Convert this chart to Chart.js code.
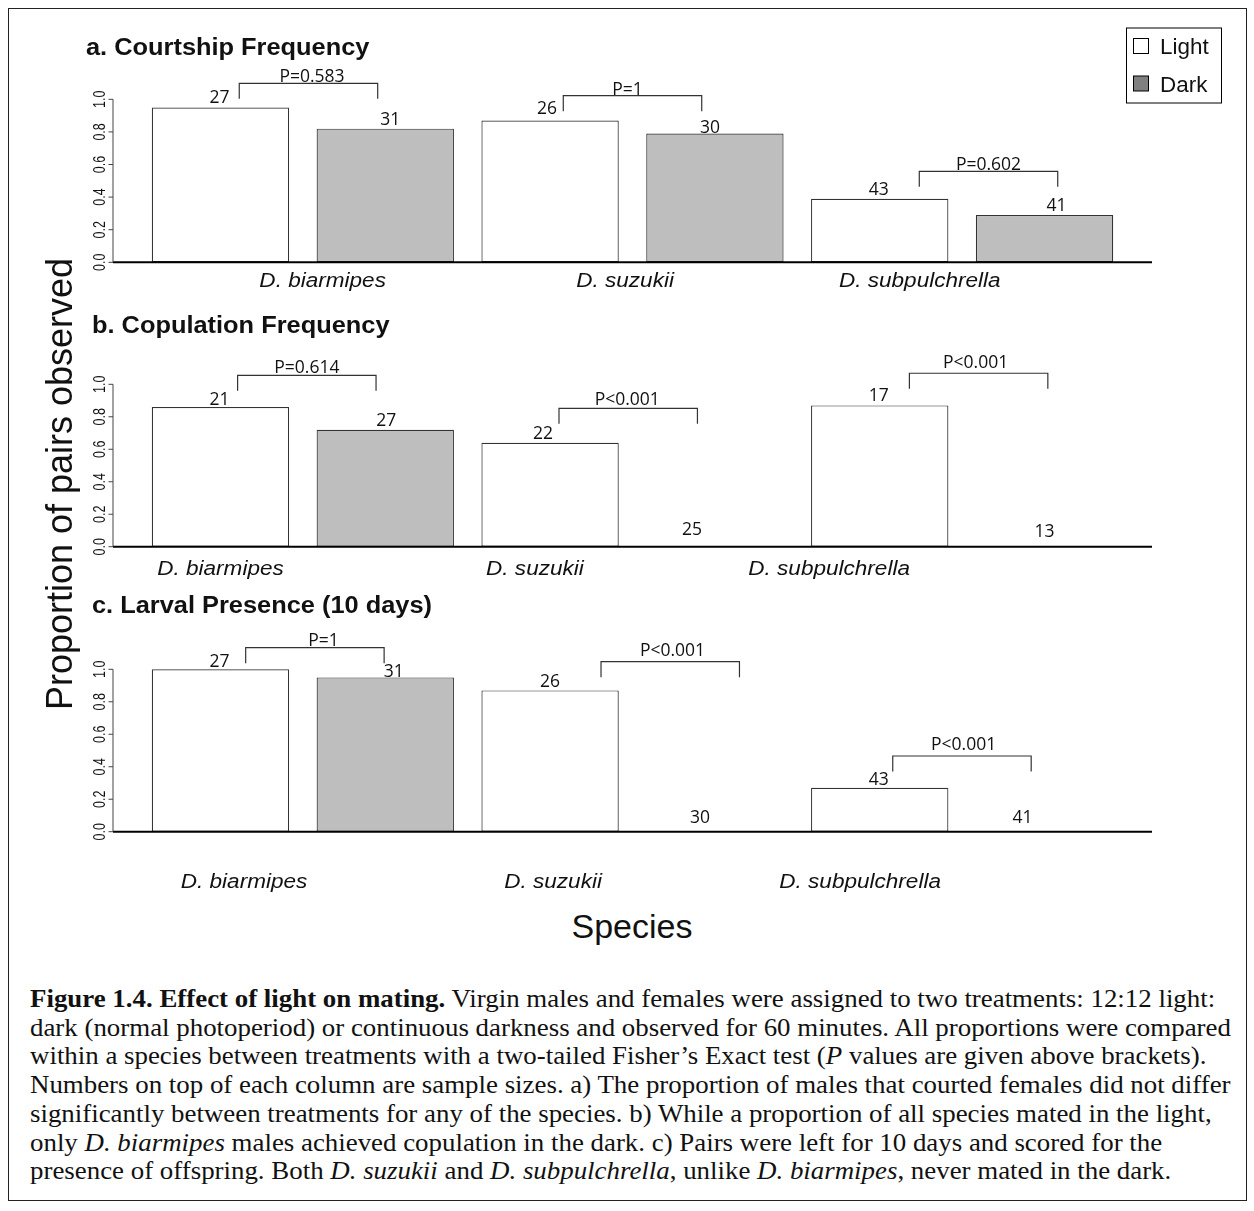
<!DOCTYPE html>
<html lang="en">
<head>
<meta charset="utf-8">
<title>Figure 1.4. Effect of light on mating</title>
<script src="https://cdn.jsdelivr.net/npm/chart.js@4.4.1/dist/chart.umd.min.js"></script>
<style>
  html, body { margin: 0; padding: 0; background: #fff; }
  body { position: relative; width: 1254px; height: 1211px; overflow: hidden; }
  #frame { position: absolute; left: 8px; top: 8px; width: 1237px; height: 1191px; border: 1px solid #222; }
  canvas.panel { position: absolute; left: 0; }
  #ytitle {
    position: absolute; left: 41.5px; top: 784px; width: 600px; height: 36px;
    font: 36px/36px "Liberation Sans", Arial, sans-serif; color: #111;
    text-align: center; white-space: nowrap;
    transform-origin: 0 0; transform: rotate(-90deg);
  }
  #xtitle {
    position: absolute; left: 332px; top: 909px; width: 600px; height: 34px;
    font: 34px/34px "Liberation Sans", Arial, sans-serif; color: #111;
    text-align: center; white-space: nowrap;
  }
  #caption {
    position: absolute; left: 30px; top: 985px;
    font-family: "Liberation Serif", "Times New Roman", serif; font-size: 25px; line-height: 28.7px;
    color: #111; white-space: nowrap; transform-origin: 0 0; transform: scaleX(1.075);
  }
</style>
</head>
<body>
<div id="frame"></div>
<canvas id="panelA" class="panel" width="1254" height="300" style="top:0px;width:1254px;height:300px"></canvas>
<canvas id="panelB" class="panel" width="1254" height="290" style="top:300px;width:1254px;height:290px"></canvas>
<canvas id="panelC" class="panel" width="1254" height="310" style="top:590px;width:1254px;height:310px"></canvas>
<div id="ytitle">Proportion of pairs observed</div>
<div id="xtitle">Species</div>
<div id="caption">
<b>Figure 1.4. Effect of light on mating.</b> Virgin males and females were assigned to two treatments: 12:12 light:<br>
dark (normal photoperiod) or continuous darkness and observed for 60 minutes. All proportions were compared<br>
within a species between treatments with a two-tailed Fisher’s Exact test (<i>P</i> values are given above brackets).<br>
Numbers on top of each column are sample sizes. a) The proportion of males that courted females did not differ<br>
significantly between treatments for any of the species. b) While a proportion of all species mated in the light,<br>
only <i>D. biarmipes</i> males achieved copulation in the dark. c) Pairs were left for 10 days and scored for the<br>
presence of offspring. Both <i>D. suzukii</i> and <i>D. subpulchrella</i>, unlike <i>D. biarmipes</i>, never mated in the dark.
</div>

<script>
// ---- data ----
const species = ['D. biarmipes', 'D. suzukii', 'D. subpulchrella'];
const treatments = ['Light', 'Dark'];
const yTickValues = [0, 0.2, 0.4, 0.6, 0.8, 1.0];

// a. courtship frequency
const courtshipLight = [0.95, 0.87, 0.39];
const courtshipDark = [0.82, 0.79, 0.29];
const courtshipNLight = [27, 26, 43];
const courtshipNDark = [31, 30, 41];
const courtshipP = ['P=0.583', 'P=1', 'P=0.602'];

// b. copulation frequency
const copulationLight = [0.86, 0.64, 0.87];
const copulationDark = [0.72, 0, 0];
const copulationNLight = [21, 22, 17];
const copulationNDark = [27, 25, 13];
const copulationP = ['P=0.614', 'P<0.001', 'P<0.001'];

// c. larval presence after 10 days
const larvalLight = [1.0, 0.87, 0.27];
const larvalDark = [0.95, 0, 0];
const larvalNLight = [27, 26, 43];
const larvalNDark = [31, 30, 41];
const larvalP = ['P=1', 'P<0.001', 'P<0.001'];

// ---- styling ----
const INK = '#111';
const EDGE = '#333';
const LIGHT_FILL = '#ffffff';
const DARK_FILL = '#bebebe';
const DARK_SWATCH = '#808080';
const SANS = '"Liberation Sans", Arial, sans-serif';
const NUM_FONT = '17.5px "Open Sans", "Liberation Sans", sans-serif';
const TEXT_SX = 1.08;           // slight horizontal widening of the figure text
const X_MIN = -0.652, X_MAX = 5.652; // bar slots 0..5, one bar per slot
const BRACKET_SPAN = 0.84;      // bracket width in bar-slot units
const BRACKET_LEG = 15.5;

// ---- per-panel layout (page coordinates / scale units) ----
const layoutA = {
  top: 0, height: 300, areaTop: 99.3, areaBottom: 262.3,
  titleX: 86, titleY: 55,
  speciesX: [0.62, 2.455, 4.243], speciesDrop: 24.7,
  brackets: [{ x0: 0.114, top: 1.098, dx: 3.5, gap: 1.6 },
             { x0: 2.080, top: 1.022, dx: -5, gap: 0.8 },
             { x0: 4.240, top: 0.558, dx: 0, gap: 1.3 }],
  countDx: [[-1, -3, -1], [5, -5, 12]],
  countGap: [[4.7, 6.4, 4], [3.7, 0.4, 3.6]],
  legend: true
};
const layoutB = {
  top: 300, height: 290, areaTop: 384.3, areaBottom: 546.7,
  titleX: 92, titleY: 332.5,
  speciesX: [0.0, 1.908, 3.693], speciesDrop: 28.3,
  brackets: [{ x0: 0.104, top: 1.055, dx: 0, gap: 2 },
             { x0: 2.054, top: 0.852, dx: -1, gap: 3.3 },
             { x0: 4.180, top: 1.068, dx: -3, gap: 5 }],
  countDx: [[-1, -7, -1], [1, -23, 0]],
  countGap: [[2.3, 4, 4], [3.3, 11.7, 10]],
  legend: false
};
const layoutC = {
  top: 590, height: 310, areaTop: 669.3, areaBottom: 831.7,
  titleX: 92, titleY: 613.3,
  speciesX: [0.143, 2.018, 3.881], speciesDrop: 55.8,
  brackets: [{ x0: 0.153, top: 1.133, dx: 8.5, gap: 1.7 },
             { x0: 2.309, top: 1.047, dx: 2.3, gap: 5.7 },
             { x0: 4.079, top: 0.466, dx: 1.6, gap: 6 }],
  countDx: [[-1, 0, -1], [8.5, -15, -22]],
  countGap: [[2, 3, 3], [0, 8.4, 8.4]],
  legend: false
};

const panels = [
  { id: 'panelA', title: 'a. Courtship Frequency', light: courtshipLight, dark: courtshipDark,
    nLight: courtshipNLight, nDark: courtshipNDark, p: courtshipP, layout: layoutA },
  { id: 'panelB', title: 'b. Copulation Frequency', light: copulationLight, dark: copulationDark,
    nLight: copulationNLight, nDark: copulationNDark, p: copulationP, layout: layoutB },
  { id: 'panelC', title: 'c. Larval Presence (10 days)', light: larvalLight, dark: larvalDark,
    nLight: larvalNLight, nDark: larvalNDark, p: larvalP, layout: layoutC }
];

function drawText(ctx, text, x, y, font, align, sx, sy, rot) {
  ctx.save();
  ctx.translate(x, y);
  if (rot) ctx.rotate(rot);
  ctx.scale(sx || 1, sy || 1);
  ctx.font = font;
  ctx.textAlign = align || 'center';
  ctx.textBaseline = 'alphabetic';
  ctx.fillStyle = INK;
  ctx.fillText(text, 0, 0);
  ctx.restore();
}

function line(ctx, pts, width, color) {
  ctx.save();
  ctx.beginPath();
  ctx.moveTo(pts[0][0], pts[0][1]);
  for (let i = 1; i < pts.length; i++) ctx.lineTo(pts[i][0], pts[i][1]);
  ctx.lineWidth = width;
  ctx.strokeStyle = color;
  ctx.stroke();
  ctx.restore();
}

// axes, sample sizes, test brackets, labels and legend for one panel
function decor(panel) {
  const L = panel.layout;
  return {
    id: 'decor_' + panel.id,
    afterDatasetsDraw(chart) {
      const { ctx, chartArea } = chart;
      const xs = chart.scales.x, ys = chart.scales.y;
      const y0 = ys.getPixelForValue(0), y1 = ys.getPixelForValue(1);
      const ax = chartArea.left;

      // baseline
      line(ctx, [[chartArea.left, y0], [chartArea.right, y0]], 2, '#000');

      // y axis with rotated tick labels
      line(ctx, [[ax, y0], [ax, y1]], 1, '#444');
      yTickValues.forEach(v => {
        const py = ys.getPixelForValue(v);
        line(ctx, [[ax - 4.5, py], [ax, py]], 1, '#444');
        drawText(ctx, v.toFixed(1), ax - 8.5, py, '12.5px ' + SANS, 'center', 1, 1.35, -Math.PI / 2);
      });

      // sample sizes above each column
      const counts = [panel.nLight, panel.nDark];
      [0, 1].forEach(di => {
        const meta = chart.getDatasetMeta(di);
        meta.data.forEach((bar, i) => {
          drawText(ctx, String(counts[di][i]), bar.x + L.countDx[di][i], bar.y - L.countGap[di][i],
                   NUM_FONT, 'center');
        });
      });

      // Fisher test brackets
      L.brackets.forEach((b, i) => {
        const xl = xs.getPixelForValue(b.x0), xr = xs.getPixelForValue(b.x0 + BRACKET_SPAN);
        const yt = ys.getPixelForValue(b.top);
        line(ctx, [[xl, yt + BRACKET_LEG], [xl, yt], [xr, yt], [xr, yt + BRACKET_LEG]], 1.2, EDGE);
        drawText(ctx, panel.p[i], (xl + xr) / 2 + b.dx, yt - b.gap, NUM_FONT, 'center');
      });

      // species names
      species.forEach((s, i) => {
        drawText(ctx, s, xs.getPixelForValue(L.speciesX[i]), y0 + L.speciesDrop,
                 'italic 20.5px ' + SANS, 'center', 1.1, 1);
      });

      // panel title
      drawText(ctx, panel.title, L.titleX, L.titleY - L.top, 'bold 23.5px ' + SANS, 'left', TEXT_SX, 1);

      // legend
      if (L.legend) {
        ctx.save();
        ctx.lineWidth = 1;
        ctx.strokeStyle = '#000';
        ctx.strokeRect(1126.5, 28, 95, 75);
        const sw = [LIGHT_FILL, DARK_SWATCH];
        const rowY = [38.5, 76];
        chart.data.datasets.forEach((ds, k) => {
          ctx.fillStyle = sw[k];
          ctx.fillRect(1133.5, rowY[k], 15, 15);
          ctx.strokeStyle = '#000';
          ctx.strokeRect(1133.5, rowY[k], 15, 15);
          drawText(ctx, ds.label, 1160, rowY[k] + 15.8, '22px ' + SANS, 'left', 1.02, 1);
        });
        ctx.restore();
      }
    }
  };
}

function buildPanel(panel) {
  const L = panel.layout;
  const canvas = document.getElementById(panel.id);
  const lightPts = panel.light.map((v, i) => ({ x: 2 * i, y: v }));
  const darkPts = panel.dark.map((v, i) => ({ x: 2 * i + 1, y: v }));
  const barStyle = {
    borderColor: EDGE, borderWidth: 1.2, borderSkipped: false,
    grouped: false, categoryPercentage: 1, barPercentage: 1 / 1.2, clip: false
  };
  return new Chart(canvas, {
    type: 'bar',
    data: {
      datasets: [
        Object.assign({ label: treatments[0], data: lightPts, backgroundColor: LIGHT_FILL }, barStyle),
        Object.assign({ label: treatments[1], data: darkPts, backgroundColor: DARK_FILL }, barStyle)
      ]
    },
    options: {
      responsive: false,
      animation: false,
      devicePixelRatio: 1,
      events: [],
      layout: {
        padding: {
          left: 113, right: 102,
          top: L.areaTop - L.top,
          bottom: L.top + L.height - L.areaBottom
        }
      },
      scales: {
        x: { type: 'linear', min: X_MIN, max: X_MAX, offset: false, display: false,
             ticks: { stepSize: 1, includeBounds: false } },
        y: { type: 'linear', min: 0, max: 1, display: false }
      },
      plugins: { legend: { display: false }, tooltip: { enabled: false }, title: { display: false } }
    },
    plugins: [decor(panel)]
  });
}

const fontLoads = ['17.5px "Open Sans"', '20px "Liberation Sans"', 'bold 20px "Liberation Sans"',
                   'italic 20px "Liberation Sans"'].map(f => document.fonts.load(f).catch(() => null));
Promise.all(fontLoads).then(() => panels.forEach(buildPanel));
</script>
</body>
</html>
